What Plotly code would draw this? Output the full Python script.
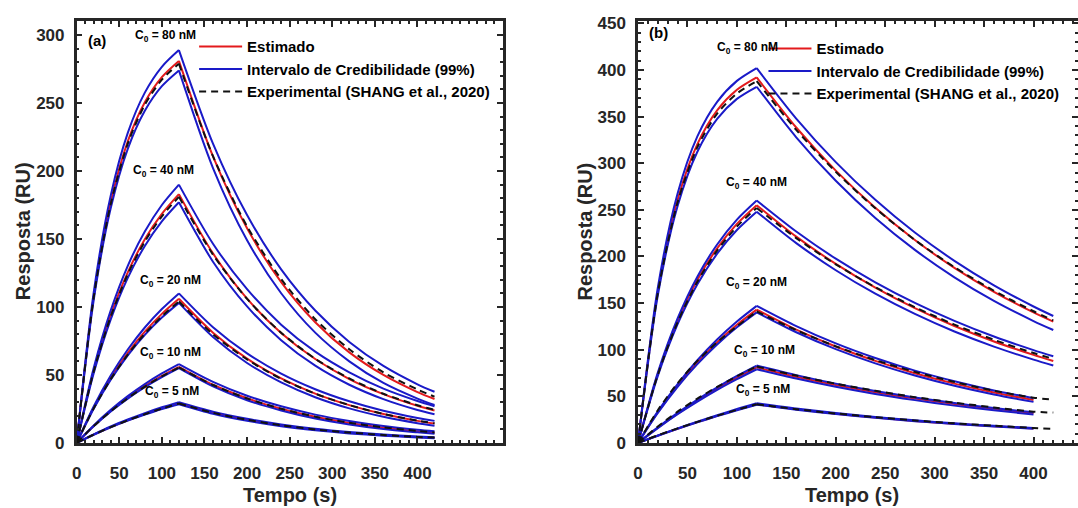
import plotly.graph_objects as go

# ---------------- data ----------------
T = [0, 20, 40, 60, 80, 100, 120, 160, 200, 240, 280, 320, 360, 400, 420]
CONC = ["80", "40", "20", "10", "5"]

# Panel (a)
a_est = [
    [0, 107.7, 177.1, 221.8, 250.6, 269.1, 281, 210.8, 157.9, 118.3, 88.8, 66.6, 50.0, 37.4, 32.3],
    [0, 53.1, 94.0, 125.5, 149.8, 168.5, 183, 139.4, 106.1, 80.9, 61.7, 47.0, 35.9, 27.3, 23.8],
    [0, 25.9, 47.8, 66.2, 81.8, 94.9, 106, 81.1, 62.0, 47.5, 36.3, 27.8, 21.2, 16.2, 14.2],
    [0, 12.5, 23.5, 33.2, 41.8, 49.3, 56, 42.8, 32.8, 25.1, 19.2, 14.7, 11.2, 8.6, 7.5],
    [0, 6.1, 11.7, 16.7, 21.2, 25.3, 29, 22.1, 16.8, 12.8, 9.8, 7.5, 5.7, 4.3, 3.8],
]
a_up = [
    [0, 110.8, 182.1, 228.1, 257.7, 276.7, 289, 220.2, 167.6, 127.7, 97.4, 74.3, 56.6, 43.1, 37.6],
    [0, 55.1, 97.5, 130.3, 155.5, 175.0, 190, 146.5, 113.1, 87.0, 67.1, 51.9, 39.9, 30.8, 27.0],
    [0, 26.9, 49.6, 68.7, 84.9, 98.5, 110, 85.1, 65.9, 51.0, 39.5, 30.6, 23.7, 18.4, 16.2],
    [0, 12.9, 24.3, 34.4, 43.3, 51.1, 58, 44.9, 34.7, 26.9, 20.8, 16.1, 12.5, 9.7, 8.5],
    [0, 6.3, 12.1, 17.2, 21.9, 26.2, 30, 23.0, 17.7, 13.6, 10.4, 8.0, 6.2, 4.7, 4.1],
]
a_lo = [
    [0, 105.1, 172.7, 216.3, 244.3, 262.4, 274, 202.2, 149.1, 110.1, 81.1, 60.0, 44.1, 32.6, 27.9],
    [0, 51.3, 90.9, 121.4, 144.9, 163.0, 177, 133.3, 100.4, 75.6, 56.8, 42.8, 32.2, 24.2, 21.1],
    [0, 25.2, 46.4, 64.4, 79.5, 92.2, 103, 77.9, 58.8, 44.5, 33.6, 25.4, 19.2, 14.5, 12.6],
    [0, 12.2, 23.1, 32.6, 41.0, 48.4, 55, 41.6, 31.4, 23.8, 17.9, 13.6, 10.2, 7.8, 6.7],
    [0, 6.0, 11.5, 16.4, 20.8, 24.9, 28.5, 21.5, 16.3, 12.3, 9.3, 7.0, 5.3, 4.0, 3.5],
]
a_exp = [
    [0, 107.0, 175.8, 220.2, 248.8, 267.2, 279, 210.9, 159.3, 120.5, 91.0, 68.9, 51.9, 39.3, 34.0],
    [0, 52.5, 92.9, 124.1, 148.1, 166.7, 181, 138.5, 105.9, 81.1, 61.9, 47.4, 36.2, 27.7, 24.3],
    [0, 25.4, 46.9, 65.0, 80.3, 93.1, 104, 79.9, 61.4, 47.1, 36.2, 27.8, 21.3, 16.4, 14.4],
    [0, 12.4, 23.3, 32.9, 41.4, 48.9, 55.5, 42.6, 32.7, 25.1, 19.3, 14.8, 11.4, 8.8, 7.7],
    [0, 6.1, 11.6, 16.6, 21.1, 25.2, 29, 22.2, 17.0, 13.0, 9.9, 7.6, 5.8, 4.4, 3.9],
]

# Panel (b)
b_est = [
    [0, 162.3, 260.8, 320.5, 356.7, 378.7, 392, 338.3, 292.0, 252.1, 217.6, 187.8, 162.1, 139.9, 130.0],
    [0, 73.9, 130.9, 174.9, 208.7, 234.9, 255, 221.2, 192.0, 166.5, 144.5, 125.4, 108.8, 94.4, 87.9],
    [0, 32.9, 61.4, 86.3, 107.9, 126.7, 143, 121.6, 103.4, 88.0, 74.8, 63.6, 54.1, 46.0, None],
    [0, 16.3, 31.4, 45.3, 58.2, 70.1, 81, 70.9, 62.1, 54.4, 47.6, 41.7, 36.5, 32.0, None],
    [0, 7.8, 15.2, 22.3, 29.0, 35.4, 41.5, 36.1, 31.3, 27.2, 23.6, 20.5, 17.8, 15.5, None],
]
b_up = [
    [0, 166.5, 267.5, 328.7, 365.8, 388.3, 402, 347.9, 301.2, 260.7, 225.6, 195.3, 169.0, 146.3, 136.1],
    [0, 75.4, 133.5, 178.3, 212.8, 239.5, 260, 226.7, 197.6, 172.3, 150.2, 130.9, 114.1, 99.5, 92.9],
    [0, 33.8, 63.2, 88.7, 110.9, 130.2, 147, 125.3, 106.7, 91.0, 77.5, 66.1, 56.3, 48.0, None],
    [0, 16.7, 32.2, 46.5, 59.6, 71.8, 83, 72.7, 63.6, 55.7, 48.8, 42.7, 37.4, 32.8, None],
    [0, 8.0, 15.6, 22.8, 29.7, 36.3, 42.5, 36.9, 32.1, 27.9, 24.2, 21.0, 18.3, 15.9, None],
]
b_lo = [
    [0, 158.2, 254.1, 312.3, 347.6, 369.0, 382, 327.8, 281.2, 241.2, 207.0, 177.6, 152.3, 130.7, 121.1],
    [0, 71.9, 127.3, 170.1, 203.0, 228.4, 248, 214.3, 185.2, 160.0, 138.3, 119.5, 103.3, 89.3, 83.0],
    [0, 32.2, 60.2, 84.5, 105.6, 124.0, 140, 118.7, 100.6, 85.3, 72.3, 61.3, 52.0, 44.0, None],
    [0, 15.9, 30.7, 44.2, 56.8, 68.3, 79, 69.0, 60.2, 52.5, 45.9, 40.0, 34.9, 30.5, None],
    [0, 7.7, 15.1, 22.0, 28.7, 35.0, 41, 35.6, 30.9, 26.9, 23.3, 20.3, 17.6, 15.3, None],
]
b_exp = [
    [0, 160.7, 258.1, 317.2, 353.1, 374.8, 388, 335.8, 290.7, 251.6, 217.7, 188.5, 163.2, 141.2, 131.4],
    [0, 73.1, 129.4, 172.8, 206.3, 232.1, 252, 219.7, 191.5, 167.0, 145.6, 126.9, 110.6, 96.4, 90.1],
    [0, 35.0, 64.0, 88.0, 108.0, 125.0, 141, 120.9, 103.6, 88.8, 76.2, 65.3, 56.0, 48.5, 46.5],
    [0, 17.5, 33.5, 47.5, 60.0, 71.5, 82, 72.2, 63.5, 55.9, 49.1, 43.2, 38.0, 33.5, 32.5],
    [0, 8.2, 15.6, 22.6, 29.2, 35.5, 41.5, 36.2, 31.6, 27.6, 24.1, 21.0, 18.4, 16.0, 15.0],
]

X_TICKS = [0, 50, 100, 150, 200, 250, 300, 350, 400]

# label positions (data coords) for the C0 annotations
a_lbl_x = [104, 102, 110, 110, 112]
a_lbl_y = [299, 200, 119, 66, 37.7]
b_lbl_x = [111, 119.5, 120, 128, 126]
b_lbl_y = [424, 279, 172, 99, 56.7]

# ---------------- styling ----------------
RED = "#e31a1c"
BLUE = "#1a1ac8"
BLACK = "#111111"
AX = "#262626"
FONT = "Liberation Sans, Arial, sans-serif"
W, H = 1078, 508


def split(v):
    # break the line at the peak (t = 120) so the corner stays sharp
    return v[:7] + [None] + v[6:]


TX = split(T)
fig = go.Figure()

panels = [
    (a_est, a_up, a_lo, a_exp, "x", "y", "legend"),
    (b_est, b_up, b_lo, b_exp, "x2", "y2", "legend2"),
]
for est, up, lo, ex, xa, ya, leg in panels:
    for i in range(len(CONC)):
        fig.add_trace(go.Scatter(
            x=TX, y=split(est[i]), mode="lines", name="Estimado",
            line=dict(color=RED, width=2, shape="spline", smoothing=0.8),
            xaxis=xa, yaxis=ya, legend=leg, showlegend=(i == 0),
            legendgroup="est", connectgaps=False))
    for i in range(len(CONC)):
        for k, band in enumerate((up, lo)):
            fig.add_trace(go.Scatter(
                x=TX, y=split(band[i]), mode="lines",
                name="Intervalo de Credibilidade (99%)",
                line=dict(color=BLUE, width=2, shape="spline", smoothing=0.8),
                xaxis=xa, yaxis=ya, legend=leg,
                showlegend=(i == 0 and k == 0), legendgroup="ci",
                connectgaps=False))
    for i in range(len(CONC)):
        fig.add_trace(go.Scatter(
            x=TX, y=split(ex[i]), mode="lines",
            name="Experimental (SHANG et al., 2020)",
            line=dict(color=BLACK, width=2, dash="7px,5px", shape="spline",
                      smoothing=0.8),
            xaxis=xa, yaxis=ya, legend=leg, showlegend=(i == 0),
            legendgroup="exp", connectgaps=False))

# invisible helper trace so the right-hand tick axis of panel (b) exists
fig.add_trace(go.Scatter(x=[None], y=[None], xaxis="x2", yaxis="y3",
                         showlegend=False, hoverinfo="skip"))

tick_font = dict(family=FONT, size=17, color=AX, weight="bold")
minor_t = dict(ticks="inside", ticklen=3, tickwidth=1.5, tickcolor=AX, dtick=10)
axis_common = dict(
    showline=True, linecolor=AX, linewidth=2.5, mirror="ticks",
    ticks="inside", ticklen=6, tickwidth=2, tickcolor=AX,
    showgrid=False, zeroline=False, tickfont=tick_font, minor=minor_t,
)

ydom = [57 / H, 493 / H]
leg_font = dict(family=FONT, size=15, color="#000000", weight="bold")
fig.update_layout(
    width=W, height=H,
    margin=dict(l=0, r=0, t=0, b=0),
    paper_bgcolor="white", plot_bgcolor="white",
    font=dict(family=FONT, color="#000000"),
    xaxis=dict(domain=[72 / W, 500 / W], range=[0, 500], anchor="y",
               tickvals=X_TICKS, ticklabelstandoff=13, **axis_common),
    yaxis=dict(domain=ydom, range=[0, 310], anchor="x", dtick=50,
               ticklabelstandoff=6, **axis_common),
    xaxis2=dict(domain=[636 / W, 1.0], range=[0, 445], anchor="y2",
                tickvals=X_TICKS, ticklabelstandoff=13, **axis_common),
    yaxis2=dict(domain=ydom, range=[0, 452], anchor="x2", dtick=50,
                ticklabelstandoff=6, showline=True, linecolor=AX, linewidth=2.5,
                mirror=False, ticks="inside", ticklen=6, tickwidth=2,
                tickcolor=AX, showgrid=False, zeroline=False,
                tickfont=tick_font, minor=minor_t),
    yaxis3=dict(domain=ydom, range=[0, 452], anchor="x2", overlaying="y2",
                side="right", dtick=50, showline=False, ticks="inside",
                ticklen=6, tickwidth=2, tickcolor=AX, showgrid=False,
                zeroline=False, showticklabels=False, minor=minor_t),
    legend=dict(x=190 / W, y=1 - 24 / H, xanchor="left", yanchor="top",
                bgcolor="rgba(0,0,0,0)", borderwidth=0, tracegroupgap=0,
                itemwidth=43, font=leg_font),
    legend2=dict(x=762 / W, y=1 - 26 / H, xanchor="left", yanchor="top",
                 bgcolor="rgba(0,0,0,0)", borderwidth=0, tracegroupgap=0,
                 itemwidth=43, font=leg_font),
)

ann = []
lbl_font = dict(family=FONT, size=12, color="#000000", weight="bold")
for c, x, y in zip(CONC, a_lbl_x, a_lbl_y):
    ann.append(dict(x=x, y=y, xref="x", yref="y", showarrow=False,
                    text=f"C<sub>0</sub> = {c} nM", font=lbl_font))
for c, x, y in zip(CONC, b_lbl_x, b_lbl_y):
    ann.append(dict(x=x, y=y, xref="x2", yref="y2", showarrow=False,
                    text=f"C<sub>0</sub> = {c} nM", font=lbl_font))
pfont = dict(family=FONT, size=15, color="#000000", weight="bold")
ann.append(dict(x=24, y=296, xref="x", yref="y", text="(a)", showarrow=False, font=pfont))
ann.append(dict(x=21, y=440, xref="x2", yref="y2", text="(b)", showarrow=False, font=pfont))

tfont = dict(family=FONT, size=20, color=AX, weight="bold")
for xc in (286, 851):
    ann.append(dict(x=xc / W, y=1 - 505 / H, xref="paper", yref="paper",
                    text="Tempo (s)", showarrow=False, font=tfont,
                    xanchor="center", yanchor="middle"))
for xc in (18, 583):
    ann.append(dict(x=xc / W, y=1 - 232 / H, xref="paper", yref="paper",
                    text="Resposta (RU)", showarrow=False, font=tfont,
                    textangle=-90, xanchor="center", yanchor="middle"))
fig.update_layout(annotations=ann)

fig.write_html("out.html")
